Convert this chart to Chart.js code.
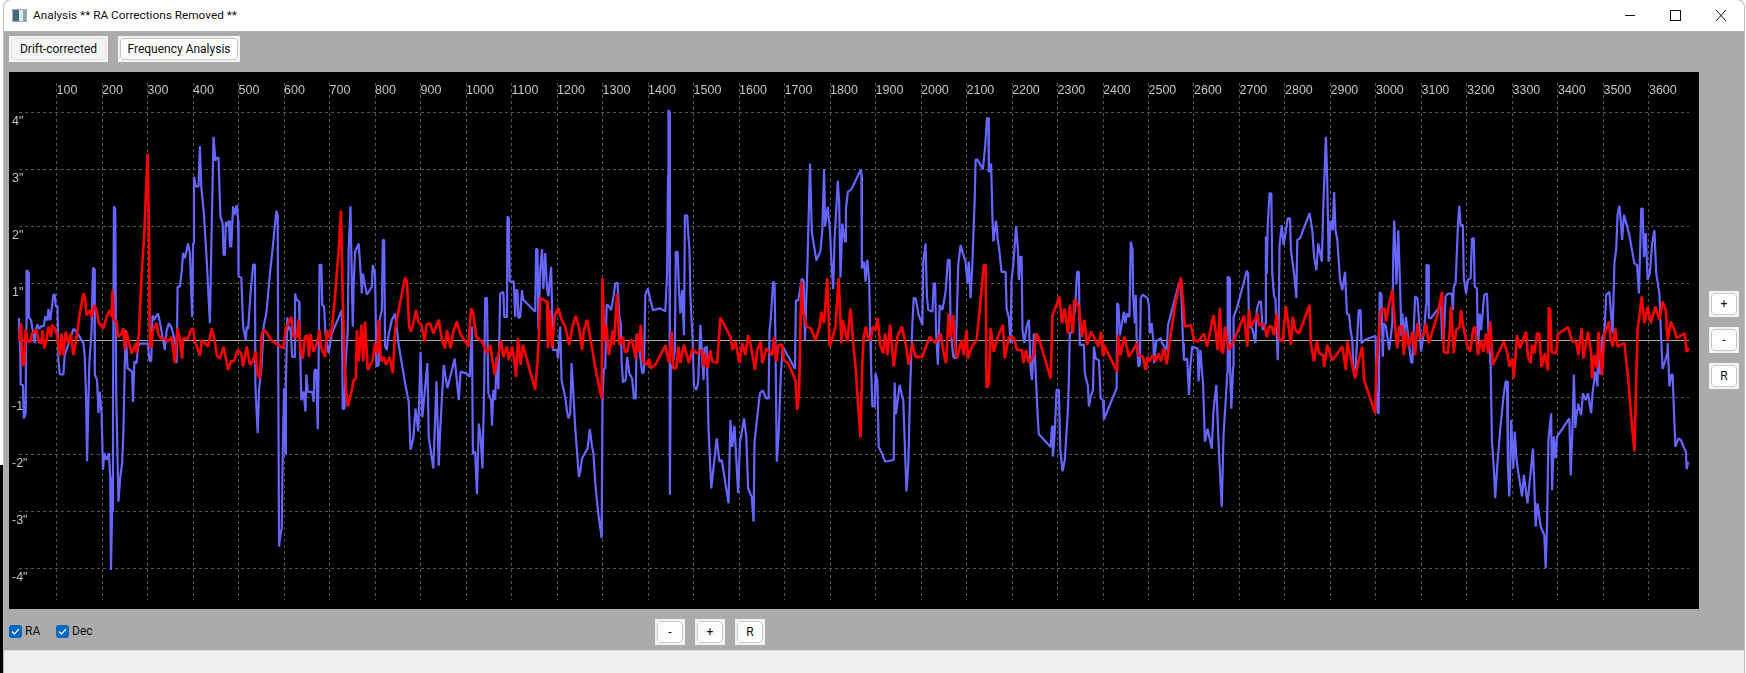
<!DOCTYPE html>
<html>
<head>
<meta charset="utf-8">
<title>Analysis ** RA Corrections Removed **</title>
<script src="https://cdn.jsdelivr.net/npm/chart.js@4/dist/chart.umd.js"></script>
<style>
html, body { margin: 0; padding: 0; width: 1746px; height: 673px; overflow: hidden; background: #fff; font-family: Roboto, "Noto Sans", sans-serif; font-size: 12px; color: #111; }
.abs { position: absolute; box-sizing: border-box; }
#sliver { left: 0; top: 465px; width: 4px; height: 208px; background: #000; }
#window { left: 4px; top: 0; width: 1740px; height: 673px; background: #ababab; border-radius: 7px 7px 0 0; overflow: hidden; box-shadow: 0 0 0 1px #bbb; }
#titlebar { left: 4px; top: 0; width: 1740px; height: 31px; background: #fff; border-radius: 7px 7px 0 0; }
#title { left: 33px; top: 8px; white-space: nowrap; font-size: 11.8px; }
#icon { left: 12px; top: 9px; width: 15px; height: 13px; border: 1px solid #aaa; background: linear-gradient(90deg, #3c6d78 0 45%, #dfe8ea 45% 75%, #8fa3b5 75%); }
#status { left: 4px; top: 650px; width: 1740px; height: 23px; background: #f0f0f0; border-top: 1px solid #ddd; }
#panel { left: 9px; top: 72px; width: 1690px; height: 537px; background: #000; }
.btn { background: #fff; border: 2px solid #f1f1f1; text-align: center; }
.btn span { display: block; height: 100%; box-sizing: border-box; border: 1px solid #c8c8c8; border-radius: 4px; background: #fdfdfd; line-height: 20px; }
.chk { width: 13px; height: 13px; top: 625px; background: #0067c0; border-radius: 3px; }
.chk svg { display: block; }
.lbl { top: 622px; line-height: 18px; }
</style>
</head>
<body>
<div class="abs" id="sliver"></div>
<div class="abs" id="window"></div>
<div class="abs" id="titlebar"></div>
<div class="abs" id="icon"></div>
<div class="abs" id="title">Analysis ** RA Corrections Removed **</div>
<svg class="abs" style="left:1620px;top:8px" width="110" height="16" stroke="#111" fill="none" stroke-width="1">
  <path d="M5 7.5H15"/><rect x="50.5" y="2.5" width="10" height="10"/><path d="M96 2L106 13M106 2L96 13"/>
</svg>
<div class="abs btn" style="left:9px;top:36px;width:99px;height:26px;background:#f6f6f6;border-color:#f3f3f3"><span style="background:#f4f4f4;border-color:#e2e2e2">Drift-corrected</span></div>
<div class="abs btn" style="left:118px;top:36px;width:122px;height:26px"><span>Frequency Analysis</span></div>
<div class="abs" id="panel"><canvas id="chart" width="1690" height="537"></canvas></div>
<div class="abs btn" style="left:1709px;top:291px;width:30px;height:26px"><span>+</span></div>
<div class="abs btn" style="left:1709px;top:327px;width:30px;height:26px"><span>-</span></div>
<div class="abs btn" style="left:1709px;top:363px;width:30px;height:26px"><span>R</span></div>
<div class="abs chk" style="left:9px"><svg width="13" height="13" fill="none" stroke="#fff" stroke-width="1.2"><path d="M3 6.5L5.5 9L10 4"/></svg></div>
<div class="abs lbl" style="left:25px">RA</div>
<div class="abs chk" style="left:56px"><svg width="13" height="13" fill="none" stroke="#fff" stroke-width="1.2"><path d="M3 6.5L5.5 9L10 4"/></svg></div>
<div class="abs lbl" style="left:72px">Dec</div>
<div class="abs btn" style="left:655px;top:619px;width:30px;height:26px"><span>-</span></div>
<div class="abs btn" style="left:695px;top:619px;width:30px;height:26px"><span>+</span></div>
<div class="abs btn" style="left:735px;top:619px;width:30px;height:26px"><span>R</span></div>
<div class="abs" id="status"></div>
<script>
const xTickValues = [100,200,300,400,500,600,700,800,900,1000,1100,1200,1300,1400,1500,1600,1700,1800,1900,2000,2100,2200,2300,2400,2500,2600,2700,2800,2900,3000,3100,3200,3300,3400,3500,3600]
const yTickValues = [4,3,2,1,0,-1,-2,-3,-4]
const yTickLabels = ['4"','3"','2"','1"','','-1"','-2"','-3"','-4"']

// [frame, arcsec]
const raPoints = [
[17,.39],[20,-.2],[21,-.78],[26,-.78],[28,-1.37],[32,-1.28],[33,.2],[34,1.23],[38,1.2],[39,.4],[44,.35],[49,.1],[52,-.05],[55,.2],[58,.28],[62,.2],[67,.25],[72,.25],[75,.42],[80,.35],[82,.55],[86,.35],[90,.6],[93,.8],[96,.8],[98,.6],[102,.6],[104,-.35],[107,-.6],[115,-.6],[118,-.25],[125,-.1],[131,.05],[137,.2],[144,.15],[159,-.05],[162,-.3],[165,-1.05],[167,-2.12],[170,-1.05],[172,-.4],[177,.18],[180,1.27],[183,1.25],[184,-.6],[189,-.7],[192,-1.28],[195,-.9],[199,-1.3],
[202,-2.27],[205,-1.98],[210,-2.1],[215,-1.98],[218,-2.4],[219.5,-4.03],[222,-3],[224,-1.2],[226,2.35],[229,2.3],[231,-.9],[236,-2.83],[240,-2.4],[244,-2.16],[247,-1.57],[250,-.4],[252,.18],[256,-.49],[266,-.55],[268,-1.08],[271,-.37],[276,-.4],[279,-.11],[283,-.06],[301,-.06],[304,-.35],[308,-.37],[311,.44],[314,.36],[323,.47],[329,.24],[333,.06],[338,-.17],[342,.18],[347,.3],[353,.21],[360,0],[364,-.4],[366,.94],[371,.94],[375,1.2],[378,1.53],[382,1.44],[389,1.7],[393,1.53],[398,.41],
[400,1.7],[402,2.87],[406,2.7],[412,2.7],[415,3.41],[418,2.7],[424,2.2],[430,1.4],[437,.3],[441,2],[445,3.57],[449,3.15],[452,3.2],[456,3.2],[458,2.7],[460,2.17],[465,2.05],[467,1.5],[470,1.5],[472,2.08],[475,2.0],[479,2.1],[481,1.65],[484,1.64],[488,2.35],[491,2.2],[496,2.37],[499,2.1],[500,1.12],[506,1.1],[510,.24],[516,0],[518,.24],[521,.2],[527,.9],[532,1.33],[536,1.33],[537,-.8],[542,-1.63],[545,-.87],[548,-.64],[551,-.4],[555,.24],[561,.47],[569,1.17],[576,1.7],[583,2.27],[586,2.2],[587,-.05],[589,-3.62],[592,-3.4],[595,-3.3],[597,-2],[600,-.84],
[603,-2],[604,-.8],[607,.4],[611,.18],[614,.24],[618,-.29],[623,-.29],[624,.82],[628,.71],[633,.68],[634,.15],[636,-.38],[638,-1.05],[643,-.9],[647,-1.25],[649,-.6],[652,-.9],[662,-.91],[665,-1.08],[667,-.52],[671,-.52],[674,-1.56],[676,-.4],[678,1.33],[682,1.32],[684,.62],[688,.59],[691,.12],[698,-.23],[705,.12],[727,.53],[729,-1.21],[733,-1.19],[735,-.46],[740,.18],[742,1.6],[746,2.35],[749,1.0],[751,.24],[753,.99],[756,1.55],[764,1.7],[767,1.35],[771,.82],[773,1.17],[782,.8],[793,.94],[795,1.32],[800,1.17],
[803,-.46],[808,-.43],[810,.36],[815,.53],[817,1.76],[820,1.76],[822,-.11],[826,-.17],[829,.06],[837,.36],[844,.47],[852,-.08],[866,-.75],[874,-1.08],[878,-1.92],[884,-1.72],[889,-1.2],[895,-1.6],[900,-.2],[904,-1.35],[915,-.4],[918,-1.7],[928,-2.25],[935,-.72],[940,-2.2],[943,-1.6],[951,-.43],[959,-.84],[975,-.32],[984,-1.05],[988,-.55],[1000,-.58],[1008,-.64],[1013,.24],[1015,-2.0],[1020,-1.95],[1024,-2.7],[1028,-1.46],[1032,-1.7],[1036,-2.25],[1040,-.75],[1042,.74],[1046,.74],[1049,-.93],[1055,-1.05],[1057,-1.5],[1060,-.87],[1064,-1.05],[1067,-.29],[1071,-.86],[1075,.82],[1082,.85],[1084,.41],[1090,.41],[1091,2.17],[1094,2.15],[1096,1.03],[1105,1.03],[1108,.41],[1110,.88],[1113,.88],[1115,.39],[1119,.41],[1123,.88],[1126,.71],[1152,.5],[1154,1.6],[1157,1.6],[1159,.18],[1163,1.23],[1167,1.6],[1170,.9],[1174,1.53],[1178,.9],[1181,.77],[1187,1.29],[1191,-.17],[1200,-.17],
[1202,-.32],[1207,.24],[1210,-.7],[1218,-1],[1222,-1.25],[1225,-1.37],[1229,-1.28],[1232,-.4],[1236,-.95],[1240,-1.54],[1248,-2.4],[1251,-2.3],[1255,-2.07],[1267,-1.9],[1272,-1.56],[1277,-1.87],[1280,-1.98],[1284,-2.5],[1290,-3],[1298,-3.47],[1300,-1],[1303,-.5],[1306,-.49],[1309,.62],[1312,.62],[1319,.53],[1325,.82],[1328,1.0],[1333,1.01],[1337,.41],[1340,.3],[1342,-.4],[1345,-.74],[1351,-.69],[1354,-.29],[1359,-.58],[1365,-.67],[1369,-1.02],[1373,-1.02],[1375,.12],[1380,-.05],[1387,-.58],[1391,-.55],[1394,.8],[1400,.91],[1404,.74],[1411,.53],[1426,.56],[1438,.51],[1442,1.2],[1444,2.9],[1445,4.04],[1447,4.0],[1448,-2.71],[1450,-.5],[1455,-.4],[1459,-.17],[1461,1.55],[1465,1.55],[1468,.88],[1471,.47],[1475,.88],[1479,.09],[1481,2.19],[1486,2.19],[1489,1.8],[1491,1.6],[1493,.8],[1498,0],
[1501,-.81],[1506,-.87],[1510,-.75],[1515,.27],[1519,-.29],[1522,-.7],[1524,-.14],[1529,-.11],[1533,-1.57],[1539,-2.6],[1551,-1.72],[1557,-2.13],[1562,-2.1],[1577,-2.86],[1581,-1.4],[1585,-1.87],[1590,-1.5],[1598,-2.68],[1602,-1.8],[1611,-1.37],[1616,-1.7],[1620,-2.6],[1628,-2.75],[1632,-3.18],[1634,-1.8],[1640,-1.34],[1646,-.93],[1652,-.88],[1660,-1.02],[1665,-1.02],[1667,.18],[1669,.3],[1675,1.03],[1678,1.0],[1680,0],[1683,-2.13],[1687,-1.65],[1692,-.58],[1696,-.11],[1708,-.28],[1723,-.5],[1725,.7],[1730,.7],[1738,1.08],[1742,1.05],[1745,0],[1750,1.23],[1756,3.1],[1760,1.9],[1765,1.65],[1770,1.4],[1779,1.57],[1783,1.93],[1787,3.0],[1789,2.0],[1795,2.34],[1800,1.9],
[1803,1.4],[1807,.9],[1810,1.76],[1817,2.8],[1820,2.45],[1823,1.1],[1827,2.05],[1833,1.73],[1835,2.3],[1839,2.6],[1847,2.65],[1868,3.0],[1869,2.9],[1870,1.26],[1875,1.38],[1878,1.03],[1882,1.41],[1886,1.06],[1888,.18],[1890,-.4],[1893,-1.16],[1898,-1.16],[1900,-.58],[1904,-.72],[1907,-1.87],[1915,-2.0],[1921,-2.13],[1940,-2.1],[1942,-.74],[1945,-1.3],[1953,-.78],[1957,-.93],[1961,-1.05],[1968,-2.65],[1972,-2.2],[1976,-.87],[1981,.3],[1984,.74],[1988,.74],[1995,.44],[2003,.27],
[2005,1.38],[2010,1.7],[2013,.77],[2016,.53],[2025,.5],[2028,1.0],[2031,1.0],[2033,.18],[2037,-.43],[2041,.62],[2047,.53],[2054,.85],[2059,1.41],[2063,1.41],[2065,.18],[2071,-.29],[2076,-.32],[2082,1.35],[2087,1.67],[2094,1.47],[2098,1.38],[2102,1.0],[2105,1.38],[2109,.74],[2113,1.38],[2115,1.82],[2118,2.46],[2120,3.17],[2124,3.17],[2136,3.0],[2141,3.4],[2145,3.9],[2148,3.9],[2149,2.95],[2154,3.1],[2157,2.17],[2159,1.73],[2165,2.1],[2169,1.75],[2172,1.58],[2177,1.2],[2186,1.2],[2188,.56],[2193,.4],[2197,-.05],[2199,1.06],
[2203,1.35],[2209,2.0],[2213,1.6],[2215,1.06],[2218,1.46],[2221,1.47],[2223,.18],[2227,-.05],[2232,.24],[2237,.36],[2241,-.52],[2244,-.7],[2248,.12],[2253,-.73],[2257,-1.43],[2259,-1.65],[2285,-1.87],[2288,-1.5],[2290,-2.04],[2294,-1.6],[2298,-.87],[2303,-.87],[2306,-1.9],[2311,-2.3],[2316,-2.1],[2323,-1.2],[2325,-.7],[2327,.12],[2332,.15],[2339,.6],[2343,1.2],[2347,1.2],[2349,-.08],[2358,-.08],[2360,-.58],[2367,-.81],[2369,-1.16],[2373,-.99],[2378,-.87],[2380,-.11],[2384,-.32],[2391,-.35],[2395,-1.02],[2400,-1.05],
[2402,-1.39],[2430,-.84],[2431,.65],[2434,.62],[2437,.09],[2441,.27],[2446,.5],[2449,.3],[2453,.47],[2458,.41],[2461,1.73],[2465,1.59],[2466,.82],[2470,.3],[2472,.8],[2474,-.02],[2478,-.46],[2481,-.43],[2483,.74],[2487,.8],[2498,.74],[2501,.6],[2503,.12],[2507,.3],[2511,-.05],[2512,-.4],[2517,-.02],[2527,.04],[2530,-.05],[2540,-.17],[2543,.27],[2567,1.0],[2569,.94],[2571,1.09],[2576,-.05],[2578,-.35],[2585,-.32],[2589,-.96],[2592,-.46],[2596,-.11],[2608,-.15],
[2610,-.72],[2614,-.17],[2620,-.78],[2624,-1.78],[2630,-1.55],[2639,-1.9],[2643,-1.22],[2649,-.78],[2655,-2.0],[2661,-2.92],[2665,-1.65],[2670,-1.02],[2673,-.58],[2674,1.12],[2678,1.09],[2679,-.4],[2682,-1.2],[2686,-.46],[2687,.41],[2694,.56],[2707,.94],[2716,1.22],[2719,1.17],[2721,.24],[2725,.24],[2729,.18],[2735,-.05],[2738,.53],[2743,.68],[2747,.68],[2751,.18],[2757,.3],[2758,1.82],[2760,1.17],[2762,2.0],[2766,2.58],[2770,2.58],[2772,1.17],[2776,.77],[2779,.73],[2784,-.35],[2786,.18],[2788,1.67],[2793,2.02],[2797,1.67],
[2806,2.14],[2811,2.14],[2813,1.58],[2820,1.17],[2825,.74],[2827,1.76],[2833,1.79],[2854,2.23],[2860,1.93],[2864,1.46],[2869,1.23],[2873,1.7],[2881,1.38],[2884,2.3],[2890,3.57],[2893,2.75],[2896,1.38],[2900,2.1],[2905,1.93],[2908,2.6],[2911,1.93],[2915,1.76],[2921,1.06],[2926,.88],[2932,1.2],[2936,.47],[2941,.44],[2944,.18],[2948,0],[2950,-.46],[2955,-.52],[2962,.53],[2966,.53],[2968,-.05],[2974,0],[2999,.08],[3001,-.9],[3004,-1.28],[3006,-1.28],[3008,.84],[3012,.82],[3015,-.29],[3017,.3],[3022,.24],[3029,-.17],[3036,.3],[3038,1.5],[3040,2.1],[3043,1.5],[3045,.98],[3049,1.93],[3053,.95],[3056,.07],[3058,.47],[3061,.06],[3066,.41],[3077,-.38],[3080,-.4],[3086,.77],[3091,.74],[3095,.3],[3099,-.2],
[3101,-.2],[3106,.18],[3110,.62],[3111,1.32],[3115,1.32],[3116,.39],[3121,.39],[3143,.62],[3145,.03],[3149,.03],[3153,.77],[3158,.82],[3167,.82],[3169,.53],[3171,.94],[3175,1.0],[3178,1.58],[3180,2.0],[3183,2.36],[3186,2.02],[3191,2.02],[3193,1.1],[3198,.82],[3202,1.06],[3208,1.09],[3211,1.79],[3215,1.79],[3217,.94],[3222,.91],[3224,-.23],[3228,.47],[3231,.18],[3238,.8],[3244,.82],[3247,.18],[3252,-.46],[3255,-1.8],[3257,-2.0],[3260,-2.4],[3262,-2.77],[3267,-2.16],[3273,-1.57],[3280,-1.0],[3285,-.72],[3288,-.72],[3290,-2.2],[3293,-2.74],[3295,-2.26],[3297,-1.4],
[3302,-2.25],[3305,-1.6],[3309,-2.1],[3313,-2.33],[3321,-2.74],[3325,-2.36],[3333,-2.86],[3337,-2.54],[3345,-1.9],[3348,-2.54],[3351,-3.27],[3355,-2.86],[3362,-3.27],[3370,-3.42],[3373,-4.0],[3376,-3.24],[3379,-1.75],[3385,-1.28],[3387,-2.63],[3391,-1.69],[3395,-2.07],[3398,-1.69],[3425,-1.37],[3428,-2.37],[3432,-1.5],[3435,-.6],[3438,-1.54],[3442,-1.22],[3444,-1.11],[3451,-1.31],[3455,-.93],[3461,-1.05],[3466,-.93],[3473,-1.28],[3476,-.93],[3482,-.55],[3487,-.81],[3488,-.2],[3493,-.6],[3498,.06],
[3502,.12],[3506,.8],[3513,.85],[3517,.41],[3520,.12],[3524,1.35],[3528,1.6],[3531,2.2],[3535,2.36],[3538,2.1],[3541,1.76],[3545,2.2],[3556,1.88],[3568,1.35],[3574,1.32],[3578,.82],[3583,2.31],[3586,2.31],[3589,1.46],[3593,1.88],[3597,1.06],[3602,1.18],[3607,1.7],[3612,1.93],[3616,1.17],[3623,.82],[3626,.18],[3630,-.5],[3635,-.38],[3640,-.23],[3641,-.05],[3645,-.81],[3649,-.6],[3652,-.6],[3655,-1.25],[3658,-1.87],[3665,-1.72],[3670,-1.75],[3678,-1.9],[3681,-1.95],[3683,-2.26],[3686,-2.13]
]

const decPoints = [
[18,0],[22,.3],[25,-.43],[29,-.43],[32,.19],[36,0],[42,-.03],[46,.12],[56,.19],[61,-.03],[67,-.05],[69,.18],[73,-.14],[78,0],[82,.24],[88,.06],[90,.27],[96,.21],[101,.09],[107,-.26],[111,.12],[115,-.26],[120,.15],[126,-.05],[131,.12],[137,-.26],[144,.06],[151,.47],[159,.82],[162,.76],[166,.44],[173,.53],[177,.41],[183,.62],[188,.53],[193,.3],[203,.21],[210,.41],[217,.53],[221,.41],[223,.87],[226,.36],[232,.33],[235,.06],[243,.12],[247,.21],[250,-.17],[254,.15],[259,-.05],[265,-.23],[274,-.05],[276,-.22],[281,.12],[285,.82],[288,1.29],[293,1.9],[300,3.27],[303,2.0],[305,-.11],[309,-.11],[311,.18],[316,.24],[320,.3],[323,.12],[327,.06],[332,.03],[338,.03],[345,-.02],[353,.06],[360,-.4],[366,.21],[371,0],[376,-.32],[378,.03],[389,.03],[395,.18],[400,.21],
[404,-.02],[415,-.27],[419,0],[426,-.05],[433,-.11],[441,.21],[448,-.02],[452,-.26],[459,-.32],[467,-.11],[477,-.52],[483,-.37],[490,-.37],[498,-.17],[506,-.23],[510,-.46],[518,-.11],[525,-.43],[531,-.37],[538,-.2],[541,-.58],[547,-.67],[551,.12],[558,.18],[572,0],[587,-.08],[598,-.14],[604,.21],[616,.41],[621,.06],[628,.06],[632,.36],[636,-.17],[641,-.32],[646,.06],[651,.09],[655,-.29],[658,.11],[665,-.2],[672,-.05],[678,.18],[681,-.11],[690,-.29],[694,.18],[700,.04],[705,.18],[712,.77],[720,1.58],[725,2.28],[729,.71],[733,-.4],[737,-.93],[740,-1.16],[749,-.87],[753,-.7],[758,-.67],[760,.18],[764,-.37],[770,.27],[774,-.37],[778,.33],[784,-.52],[795,-.35],[800,-.05],
[805,-.23],[808,.36],[813,-.37],[819,-.29],[824,-.43],[832,-.29],[839,-.58],[844,.18],[852,.53],[859,.82],[866,1.1],[870,1.03],[875,.24],[879,.15],[885,.33],[890,.53],[895,.33],[902,.27],[909,-.02],[913,.27],[921,.3],[928,.12],[940,.36],[947,0],[954,-.14],[958,.18],[966,-.14],[972,.15],[980,.33],[987,.12],[1005,-.11],[1011,.56],[1016,.47],[1022,.06],[1035,-.02],[1046,-.23],[1053,-.08],[1063,-.6],[1068,-.37],[1077,0],[1082,-.29],[1090,-.11],[1094,-.35],[1101,-.11],[1106,-.35],[1110,-.64],[1114,.04],[1120,-.43],[1125,-.08],[1152,-.87],[1157,-.37],[1160,.06],[1163,.74],[1178,.68],[1180,-.14],[1184,.53],[1189,-.14],[1195,.44],[1203,.56],[1210,.36],[1218,.24],[1227,-.08],[1234,.24],[1241,.43],
[1248,.24],[1255,-.17],[1259,.18],[1266,.36],[1274,0],[1285,-.52],[1298,-1.02],[1300,1.09],[1304,0],[1308,.27],[1314,-.26],[1323,.18],[1325,-.08],[1329,.47],[1332,.82],[1337,-.08],[1345,.06],[1349,-.2],[1354,-.2],[1359,-.02],[1365,0],[1373,-.32],[1376,.12],[1380,-.2],[1384,.27],[1389,-.37],[1398,-.43],[1402,-.32],[1406,-.49],[1416,-.43],[1427,-.26],[1438,-.09],[1446,-.4],[1452,.15],[1455,-.49],[1462,-.49],[1467,-.11],[1471,-.4],[1479,-.08],[1490,-.4],[1498,-.14],[1506,-.23],[1518,-.17],[1523,-.46],[1526,-.23],[1531,-.49],[1537,-.18],[1541,-.37],[1552,-.4],[1559,.4],[1581,.06],[1586,-.17],[1592,-.02],[1601,-.4],[1607,-.05],[1614,-.26],[1620,.09],[1625,-.05],[1635,-.52],[1640,-.17],[1648,-.02],[1651,-.4],[1660,-.14],[1673,-.26],[1677,.06],[1682,-.37],[1687,-.08],[1695,-.08],[1698,-.35],[1708,-.4],[1724,-.7],[1728,-1.22],[1732,-.93],[1737,1.03],[1741,.47],[1749,.24],[1758,.21],[1768,0],[1777,.24],[1781,.5],[1787,.3],[1794,1.09],[1799,-.11],
[1806,.06],[1812,.24],[1819,1.09],[1825,-.05],[1828,.36],[1838,-.02],[1845,.56],[1851,-.05],[1856,-.46],[1861,-1.05],[1867,-1.7],[1871,-.4],[1874,.06],[1879,.24],[1883,.06],[1889,0],[1894,.24],[1900,.18],[1905,.39],[1910,-.08],[1917,-.23],[1921,.12],[1926,-.26],[1932,.27],[1940,-.46],[1948,.06],[1958,.24],[1966,-.05],[1973,-.43],[1981,-.05],[1988,-.29],[2003,-.29],[2008,-.17],[2019,.06],[2032,-.05],[2043,.12],[2050,-.23],[2055,-.4],[2061,.47],[2065,.04],[2071,.44],[2074,0],[2079,-.32],[2089,0],[2094,-.26],[2100,.18],[2103,-.32],[2112,-.11],[2122,0],[2129,.53],[2138,1.32],[2142,1.32],[2144,-.83],[2149,-.78],[2153,.21],[2160,-.2],[2168,.04],[2180,.27],[2184,-.32],[2193,.06],[2204,.04],[2211,-.17],[2222,-.17],[2225,-.4],[2231,-.17],[2237,-.4],[2248,-.26],[2253,.12],[2259,.04],[2285,-.67],[2289,.44],[2299,.65],[2304,.77],[2310,.3],[2316,.56],[2323,.12],[2327,.62],[2334,.12],[2337,.71],[2347,.59],[2354,.06],[2359,.36],[2365,-.08],[2374,.15],[2390,-.11],[2396,.15],[2400,-.26],
[2402,-.08],[2431,-.55],[2433,.09],[2438,-.26],[2447,.06],[2457,-.29],[2475,-.05],[2478,-.26],[2488,-.29],[2494,-.52],[2498,-.29],[2503,-.37],[2509,-.26],[2516,-.37],[2522,-.23],[2527,-.37],[2534,-.14],[2540,-.42],[2549,.12],[2560,.68],[2571,1.1],[2575,.77],[2580,.24],[2593,.27],[2600,0],[2609,-.02],[2622,.12],[2629,-.11],[2639,.3],[2643,.44],[2648,.12],[2652,-.17],[2657,.57],[2660,-.17],[2664,-.23],[2668,.24],[2677,-.17],[2688,0],[2710,.43],[2717,-.11],[2721,.53],[2725,.24],[2734,.36],[2740,.47],[2743,.27],[2754,.28],[2760,.06],[2765,.24],[2771,.24],[2776,.09],[2782,.47],[2787,.03],[2795,-.02],[2802,.6],[2808,.24],[2813,-.08],[2817,.41],[2823,.18],[2831,.12],[2854,.62],[2857,-.08],[2864,-.37],[2870,-.02],[2875,-.23],[2884,-.26],[2886,-.47],[2893,-.08],[2904,-.35],[2915,-.23],[2926,-.11],[2934,-.52],[2937,-.02],[2944,-.29],[2954,-.67],[2962,-.35],[2970,-.11],[2974,-.7],[2998,-1.28],[3001,-.46],[3006,.12],[3011,.53],[3019,.56],[3022,.33],[3029,.65],[3036,.88],[3042,.24],[3047,-.14],[3051,.24],[3058,.24],[3061,-.26],[3066,.15],[3072,-.11],[3080,.15],[3086,-.26],[3091,.3],[3095,.06],
[3100,.06],[3106,.12],[3110,.3],[3116,-.05],[3125,.18],[3136,.47],[3145,.85],[3149,-.2],[3158,-.23],[3163,.24],[3165,.59],[3171,-.23],[3176,.18],[3184,.24],[3187,.53],[3192,.24],[3200,-.08],[3207,-.2],[3214,.21],[3218,.24],[3224,-.26],[3231,0],[3236,-.2],[3242,.12],[3246,-.23],[3251,.33],[3257,-.43],[3281,-.02],[3290,-.26],[3293,-.46],[3300,-.32],[3303,-.67],[3310,.09],[3316,-.14],[3323,0],[3330,.15],[3334,-.29],[3340,-.4],[3343,-.08],[3348,-.23],[3354,.12],[3359,.12],[3364,-.47],[3371,-.23],[3378,-.53],[3380,.58],[3383,.53],[3386,-.2],[3396,-.23],[3400,.11],[3422,.23],[3431,-.02],[3440,-.02],[3445,-.26],[3452,.21],[3456,-.32],[3466,.15],[3473,-.23],[3475,-.67],[3480,-.26],[3486,-.49],[3489,.15],[3497,-.61],[3502,.09],[3512,.33],[3515,.06],[3520,-.11],[3526,.21],[3531,-.11],[3546,-.05],[3554,-.64],[3561,-1.34],[3568,-1.95],[3571,-.99],[3575,.18],[3579,.42],[3584,.77],[3590,.3],[3597,.59],[3604,.3],[3614,.59],[3623,.36],[3630,.68],[3637,.53],[3641,0],[3648,.33],[3656,.18],[3661,.04],[3678,.12],[3680,0],[3683,-.2],[3688,-.14]
]

const toXY = rows => rows.map(r => ({x: r[0], y: r[1]}))

const labelFont = {family: '"Liberation Sans Narrow", "Liberation Sans", sans-serif', size: 12.5}
const labelColor = '#c4c4c4'

new Chart(document.getElementById('chart'), {
  type: 'line',
  data: {
    datasets: [
      {label: 'RA', data: toXY(raPoints), borderColor: '#6666ff', borderWidth: 2.2, order: 2},
      {label: 'Dec', data: toXY(decPoints), borderColor: '#ff0000', borderWidth: 2.6, order: 1},
    ]
  },
  options: {
    responsive: false,
    animation: false,
    clip: false,
    layout: {padding: {left: 3, right: 10, top: 11, bottom: 9}},
    elements: {
      point: {radius: 0},
      line: {tension: 0, borderJoinStyle: 'bevel'}
    },
    plugins: {legend: {display: false}, tooltip: {enabled: false}},
    scales: {
      x: {
        type: 'linear',
        position: 'top',
        min: 16.3,
        max: 3688,
        afterBuildTicks: s => { s.ticks = xTickValues.map(v => ({value: v})) },
        afterFit: s => { s.height = 0 },
        grid: {color: '#555', drawTicks: false},
        border: {display: false, dash: [3, 3]},
        ticks: {
          autoSkip: false,
          maxRotation: 0,
          align: 'start',
          mirror: true, // keeps the labels from being clipped to the zero height axis box
          labelOffset: 0,
          padding: 0,
          color: labelColor,
          font: labelFont,
          callback: v => String(v)
        }
      },
      y: {
        type: 'linear',
        min: -4.556,
        max: 4.514,
        afterBuildTicks: s => { s.ticks = yTickValues.map(v => ({value: v})) },
        afterFit: s => { s.width = 6.5 },
        grid: {
          color: c => c.tick.value === 0 ? '#a8a8a8' : '#555',
          drawTicks: false
        },
        border: {display: false, dash: c => c.tick && c.tick.value === 0 ? [] : [3, 3]},
        ticks: {
          mirror: true,
          labelOffset: 9,
          padding: -6.5,
          color: labelColor,
          font: labelFont,
          callback: v => yTickLabels[yTickValues.indexOf(v)]
        }
      }
    }
  }
})
</script>
</body>
</html>
